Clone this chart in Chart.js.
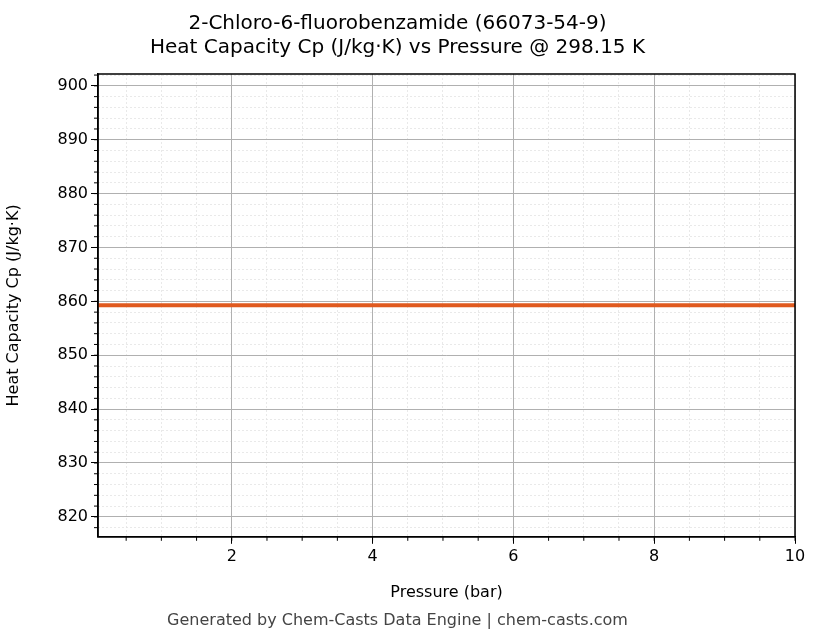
<!DOCTYPE html>
<html><head><meta charset="utf-8">
<script src="https://cdn.jsdelivr.net/npm/chart.js@4"></script>
<style>html,body{margin:0;padding:0;background:#fff}#w{position:relative;width:823px;height:644px}</style>
</head><body><div id="w"><canvas id="c" width="823" height="644"></canvas></div>
<script>
const pressures = [0.1, 1, 2, 3, 4, 5, 6, 7, 8, 9, 10];
const cpValues = [859.3, 859.3, 859.3, 859.3, 859.3, 859.3, 859.3, 859.3, 859.3, 859.3, 859.3];
const xTicks = [2, 4, 6, 8, 10];
const yTicks = [820, 830, 840, 850, 860, 870, 880, 890, 900];
const xMinor = []; for (let v = 0.5; v <= 10; v += 0.5) xMinor.push(v);
const yMinor = []; for (let v = 818; v <= 902; v += 2) yMinor.push(v);
const font = {family: 'DejaVu Sans', size: 16};
new Chart(document.getElementById('c'), {
  type: 'line',
  data: {datasets: [{data: pressures.map((p, i) => ({x: p, y: cpValues[i]})), borderColor: '#e05a1f', borderWidth: 4, pointRadius: 0, tension: 0}]},
  options: {
    responsive: false, animation: false,
    layout: {padding: {left: 0, right: 28, top: 0, bottom: 0}},
    plugins: {
      legend: {display: false},
      title: {display: true, text: ['2-Chloro-6-fluorobenzamide (66073-54-9)', 'Heat Capacity Cp (J/kg·K) vs Pressure @ 298.15 K'], color: '#000', font: {family: 'DejaVu Sans', size: 20, weight: 'normal'}, padding: {top: 12, bottom: 14}, lineHeight: 1.2},
      subtitle: {display: true, position: 'bottom', text: 'Generated by Chem-Casts Data Engine | chem-casts.com', color: '#444', font: {family: 'DejaVu Sans', size: 16}, padding: {top: 4, bottom: 14}}
    },
    scales: {
      xm: {type: 'linear', position: 'bottom', min: 0.1, max: 10, afterBuildTicks: a => { a.ticks = xMinor.map(v => ({value: v})); },
        afterFit: a => { a.height = 0; },
        grid: {color: '#e4e4e4', lineWidth: 0.8, drawTicks: false, tickLength: 0}, ticks: {display: false}, border: {display: false, dash: [2, 2]}},
      ym: {type: 'linear', position: 'left', min: 816.3, max: 902.2, afterBuildTicks: a => { a.ticks = yMinor.map(v => ({value: v})); },
        afterFit: a => { a.width = 0; },
        grid: {color: '#e4e4e4', lineWidth: 0.8, drawTicks: false, tickLength: 0}, ticks: {display: false}, border: {display: false, dash: [2, 2]}},
      x: {type: 'linear', min: 0.1, max: 10, afterBuildTicks: a => { a.ticks = xTicks.map(v => ({value: v})); },
        afterFit: a => { a.height = 70; },
        grid: {color: '#b0b0b0', lineWidth: 1, tickLength: 7, tickColor: '#000'},
        ticks: {color: '#000', font: font, padding: 3},
        border: {color: '#000', width: 1.5},
        title: {display: true, text: 'Pressure (bar)', color: '#000', font: font, padding: {top: 6}}},
      y: {type: 'linear', min: 816.3, max: 902.2, afterBuildTicks: a => { a.ticks = yTicks.map(v => ({value: v})); },
        afterFit: a => { a.width = 98; },
        grid: {color: '#b0b0b0', lineWidth: 1, tickLength: 7, tickColor: '#000'},
        ticks: {color: '#000', font: font, padding: 3},
        border: {color: '#000', width: 1.5},
        title: {display: true, text: 'Heat Capacity Cp (J/kg·K)', color: '#000', font: font, padding: {bottom: 10}}}
    }
  },
  plugins: [{id: 'frame', afterDraw(ch) {
    const a = ch.chartArea, c = ch.ctx; c.save(); c.strokeStyle = '#000'; c.lineWidth = 1.5;
    c.strokeRect(a.left, a.top, a.right - a.left, a.bottom - a.top);
    c.lineWidth = 1; c.beginPath();
    xMinor.forEach(v => { const px = ch.scales.x.getPixelForValue(v); c.moveTo(px, a.bottom); c.lineTo(px, a.bottom + 4); });
    yMinor.forEach(v => { const py = ch.scales.y.getPixelForValue(v); c.moveTo(a.left, py); c.lineTo(a.left - 4, py); });
    c.stroke(); c.restore(); }}]
});
</script></body></html>
